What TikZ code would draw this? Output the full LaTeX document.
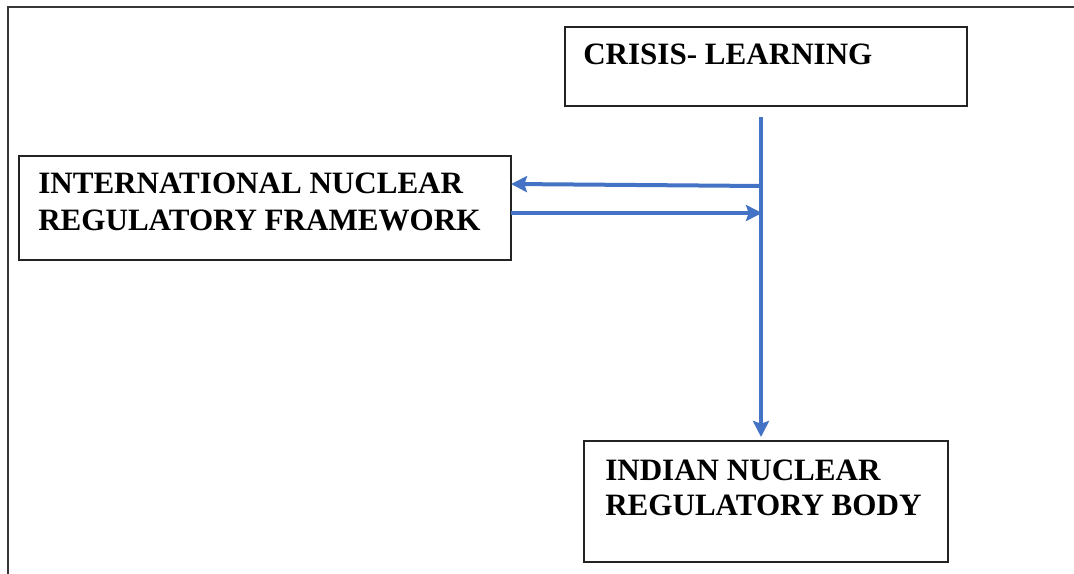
\documentclass[tikz,border=0pt]{standalone}
\usepackage{fontspec}
\setmainfont{Liberation Serif}
\usetikzlibrary{arrows.meta}
\definecolor{flowblue}{RGB}{68,114,196}
\definecolor{framegray}{RGB}{55,55,55}
\definecolor{boxgray}{RGB}{35,35,35}
\begin{document}
\begin{tikzpicture}[x=0.75pt,y=-0.75pt,
  box/.style={draw=boxgray,line width=1.2pt,rectangle,inner sep=0pt,outer sep=0pt,anchor=north west},
  lbl/.style={font=\fontsize{23.3}{27}\selectfont\bfseries,inner sep=0pt,anchor=base west},
  flowline/.style={draw=flowblue,line width=3pt,-{Stealth[length=12pt,width=12pt,inset=2pt]}}]
  \useasboundingbox (0,0) rectangle (1074,574);
  % page frame, running off the right and bottom edges
  \begin{scope}
    \clip (0,0) rectangle (1074,574);
    \draw[framegray,line width=1.9pt] (8,7) rectangle (1100,600);
  \end{scope}
  % boxes
  \node[box,minimum width=301.5pt,minimum height=59.25pt] (crisis) at (565,27) {};
  \node[box,minimum width=369pt,minimum height=78pt] (intl) at (19,156) {};
  \node[box,minimum width=273pt,minimum height=90.75pt] (indian) at (584,441) {};
  % labels
  \node[lbl] (crisisA) at (583,65) {CRISIS- LEARNING};
  \node[lbl] (intlA) at (38,194) {INTERNATIONAL NUCLEAR};
  \node[lbl] (intlB) at (38,230) {REGULATORY FRAMEWORK};
  \node[lbl] (indianA) at (605,480) {INDIAN NUCLEAR};
  \node[lbl] (indianB) at (605,515) {REGULATORY BODY};
  % connectors
  \coordinate (split) at (761,117);
  \coordinate (outA) at (761,186);
  \coordinate (inB) at (762,213);
  \draw[flowline] (split) -- ([yshift=3pt]indian.north -| split);
  \draw[flowline] (outA) -- ([yshift=18pt]intl.east);
  \draw[flowline] ([yshift=-3.75pt]intl.east) -- (inB);
\end{tikzpicture}
\end{document}
